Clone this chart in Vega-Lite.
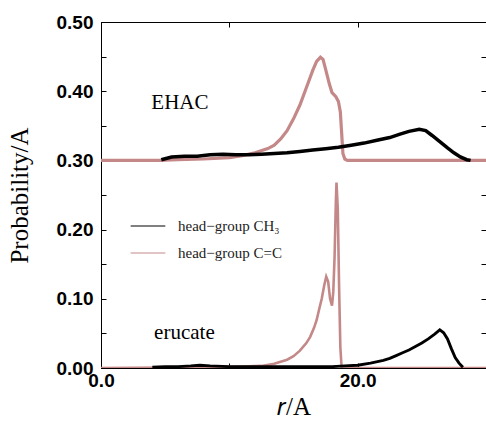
{
  "$schema": "https://vega.github.io/schema/vega-lite/v6.json",
  "width": 385,
  "height": 346,
  "autosize": {"type": "none"},
  "padding": {"left": 101, "top": 22, "right": 0, "bottom": 54},
  "background": "white",
  "config": {
    "view": {"stroke": "black", "strokeWidth": 1},
    "axis": {
      "domainColor": "black",
      "tickColor": "black",
      "grid": false,
      "labelFlush": false,
      "labelFont": "Liberation Sans",
      "labelFontWeight": "bold",
      "labelFontSize": 19,
      "labelColor": "black",
      "titleFont": "Liberation Serif",
      "titleFontWeight": "normal",
      "titleFontSize": 25,
      "titleColor": "black"
    }
  },
  "datasets": {
    "curves": [
      {"series": "EHAC C=C", "group": "head−group C=C", "r": 0.0, "p": 0.300},
      {"series": "EHAC C=C", "group": "head−group C=C", "r": 4.5, "p": 0.300},
      {"series": "EHAC C=C", "group": "head−group C=C", "r": 6.0, "p": 0.301},
      {"series": "EHAC C=C", "group": "head−group C=C", "r": 8.0, "p": 0.302},
      {"series": "EHAC C=C", "group": "head−group C=C", "r": 10.0, "p": 0.304},
      {"series": "EHAC C=C", "group": "head−group C=C", "r": 11.0, "p": 0.307},
      {"series": "EHAC C=C", "group": "head−group C=C", "r": 12.0, "p": 0.311},
      {"series": "EHAC C=C", "group": "head−group C=C", "r": 13.0, "p": 0.317},
      {"series": "EHAC C=C", "group": "head−group C=C", "r": 13.5, "p": 0.322},
      {"series": "EHAC C=C", "group": "head−group C=C", "r": 14.0, "p": 0.331},
      {"series": "EHAC C=C", "group": "head−group C=C", "r": 14.5, "p": 0.343},
      {"series": "EHAC C=C", "group": "head−group C=C", "r": 15.0, "p": 0.360},
      {"series": "EHAC C=C", "group": "head−group C=C", "r": 15.5, "p": 0.380},
      {"series": "EHAC C=C", "group": "head−group C=C", "r": 16.0, "p": 0.405},
      {"series": "EHAC C=C", "group": "head−group C=C", "r": 16.5, "p": 0.430},
      {"series": "EHAC C=C", "group": "head−group C=C", "r": 16.8, "p": 0.443},
      {"series": "EHAC C=C", "group": "head−group C=C", "r": 17.1, "p": 0.449},
      {"series": "EHAC C=C", "group": "head−group C=C", "r": 17.3, "p": 0.446},
      {"series": "EHAC C=C", "group": "head−group C=C", "r": 17.5, "p": 0.432},
      {"series": "EHAC C=C", "group": "head−group C=C", "r": 17.8, "p": 0.410},
      {"series": "EHAC C=C", "group": "head−group C=C", "r": 18.0, "p": 0.398},
      {"series": "EHAC C=C", "group": "head−group C=C", "r": 18.3, "p": 0.392},
      {"series": "EHAC C=C", "group": "head−group C=C", "r": 18.5, "p": 0.385},
      {"series": "EHAC C=C", "group": "head−group C=C", "r": 18.65, "p": 0.370},
      {"series": "EHAC C=C", "group": "head−group C=C", "r": 18.75, "p": 0.340},
      {"series": "EHAC C=C", "group": "head−group C=C", "r": 18.85, "p": 0.310},
      {"series": "EHAC C=C", "group": "head−group C=C", "r": 19.0, "p": 0.302},
      {"series": "EHAC C=C", "group": "head−group C=C", "r": 19.2, "p": 0.300},
      {"series": "EHAC C=C", "group": "head−group C=C", "r": 30.0, "p": 0.300},

      {"series": "erucate C=C", "group": "head−group C=C", "r": 0.0, "p": 0.000},
      {"series": "erucate C=C", "group": "head−group C=C", "r": 8.0, "p": 0.001},
      {"series": "erucate C=C", "group": "head−group C=C", "r": 11.0, "p": 0.002},
      {"series": "erucate C=C", "group": "head−group C=C", "r": 12.5, "p": 0.003},
      {"series": "erucate C=C", "group": "head−group C=C", "r": 13.5, "p": 0.006},
      {"series": "erucate C=C", "group": "head−group C=C", "r": 14.5, "p": 0.012},
      {"series": "erucate C=C", "group": "head−group C=C", "r": 15.0, "p": 0.017},
      {"series": "erucate C=C", "group": "head−group C=C", "r": 15.5, "p": 0.025},
      {"series": "erucate C=C", "group": "head−group C=C", "r": 16.0, "p": 0.036},
      {"series": "erucate C=C", "group": "head−group C=C", "r": 16.3, "p": 0.045},
      {"series": "erucate C=C", "group": "head−group C=C", "r": 16.6, "p": 0.058},
      {"series": "erucate C=C", "group": "head−group C=C", "r": 16.8, "p": 0.069},
      {"series": "erucate C=C", "group": "head−group C=C", "r": 17.0, "p": 0.085},
      {"series": "erucate C=C", "group": "head−group C=C", "r": 17.2, "p": 0.100},
      {"series": "erucate C=C", "group": "head−group C=C", "r": 17.4, "p": 0.120},
      {"series": "erucate C=C", "group": "head−group C=C", "r": 17.55, "p": 0.132},
      {"series": "erucate C=C", "group": "head−group C=C", "r": 17.7, "p": 0.125},
      {"series": "erucate C=C", "group": "head−group C=C", "r": 17.85, "p": 0.100},
      {"series": "erucate C=C", "group": "head−group C=C", "r": 18.0, "p": 0.090},
      {"series": "erucate C=C", "group": "head−group C=C", "r": 18.1, "p": 0.110},
      {"series": "erucate C=C", "group": "head−group C=C", "r": 18.2, "p": 0.160},
      {"series": "erucate C=C", "group": "head−group C=C", "r": 18.3, "p": 0.240},
      {"series": "erucate C=C", "group": "head−group C=C", "r": 18.35, "p": 0.268},
      {"series": "erucate C=C", "group": "head−group C=C", "r": 18.45, "p": 0.230},
      {"series": "erucate C=C", "group": "head−group C=C", "r": 18.55, "p": 0.120},
      {"series": "erucate C=C", "group": "head−group C=C", "r": 18.65, "p": 0.030},
      {"series": "erucate C=C", "group": "head−group C=C", "r": 18.75, "p": 0.000},
      {"series": "erucate C=C", "group": "head−group C=C", "r": 30.0, "p": 0.000},

      {"series": "EHAC CH3", "group": "head−group CH₃", "r": 4.7, "p": 0.301},
      {"series": "EHAC CH3", "group": "head−group CH₃", "r": 5.5, "p": 0.305},
      {"series": "EHAC CH3", "group": "head−group CH₃", "r": 6.5, "p": 0.306},
      {"series": "EHAC CH3", "group": "head−group CH₃", "r": 7.5, "p": 0.306},
      {"series": "EHAC CH3", "group": "head−group CH₃", "r": 8.5, "p": 0.308},
      {"series": "EHAC CH3", "group": "head−group CH₃", "r": 9.5, "p": 0.309},
      {"series": "EHAC CH3", "group": "head−group CH₃", "r": 10.5, "p": 0.308},
      {"series": "EHAC CH3", "group": "head−group CH₃", "r": 11.5, "p": 0.308},
      {"series": "EHAC CH3", "group": "head−group CH₃", "r": 12.5, "p": 0.309},
      {"series": "EHAC CH3", "group": "head−group CH₃", "r": 13.5, "p": 0.310},
      {"series": "EHAC CH3", "group": "head−group CH₃", "r": 14.5, "p": 0.311},
      {"series": "EHAC CH3", "group": "head−group CH₃", "r": 15.5, "p": 0.313},
      {"series": "EHAC CH3", "group": "head−group CH₃", "r": 16.5, "p": 0.315},
      {"series": "EHAC CH3", "group": "head−group CH₃", "r": 17.5, "p": 0.317},
      {"series": "EHAC CH3", "group": "head−group CH₃", "r": 18.5, "p": 0.319},
      {"series": "EHAC CH3", "group": "head−group CH₃", "r": 19.5, "p": 0.322},
      {"series": "EHAC CH3", "group": "head−group CH₃", "r": 20.5, "p": 0.325},
      {"series": "EHAC CH3", "group": "head−group CH₃", "r": 21.5, "p": 0.329},
      {"series": "EHAC CH3", "group": "head−group CH₃", "r": 22.5, "p": 0.333},
      {"series": "EHAC CH3", "group": "head−group CH₃", "r": 23.3, "p": 0.338},
      {"series": "EHAC CH3", "group": "head−group CH₃", "r": 24.0, "p": 0.342},
      {"series": "EHAC CH3", "group": "head−group CH₃", "r": 24.8, "p": 0.345},
      {"series": "EHAC CH3", "group": "head−group CH₃", "r": 25.3, "p": 0.343},
      {"series": "EHAC CH3", "group": "head−group CH₃", "r": 25.8, "p": 0.336},
      {"series": "EHAC CH3", "group": "head−group CH₃", "r": 26.4, "p": 0.327},
      {"series": "EHAC CH3", "group": "head−group CH₃", "r": 27.0, "p": 0.318},
      {"series": "EHAC CH3", "group": "head−group CH₃", "r": 27.5, "p": 0.311},
      {"series": "EHAC CH3", "group": "head−group CH₃", "r": 28.0, "p": 0.305},
      {"series": "EHAC CH3", "group": "head−group CH₃", "r": 28.5, "p": 0.301},
      {"series": "EHAC CH3", "group": "head−group CH₃", "r": 28.8, "p": 0.300},

      {"series": "erucate CH3", "group": "head−group CH₃", "r": 4.0, "p": 0.001},
      {"series": "erucate CH3", "group": "head−group CH₃", "r": 5.0, "p": 0.002},
      {"series": "erucate CH3", "group": "head−group CH₃", "r": 6.0, "p": 0.002},
      {"series": "erucate CH3", "group": "head−group CH₃", "r": 7.0, "p": 0.003},
      {"series": "erucate CH3", "group": "head−group CH₃", "r": 7.7, "p": 0.004},
      {"series": "erucate CH3", "group": "head−group CH₃", "r": 8.5, "p": 0.003},
      {"series": "erucate CH3", "group": "head−group CH₃", "r": 10.0, "p": 0.002},
      {"series": "erucate CH3", "group": "head−group CH₃", "r": 12.0, "p": 0.002},
      {"series": "erucate CH3", "group": "head−group CH₃", "r": 14.0, "p": 0.002},
      {"series": "erucate CH3", "group": "head−group CH₃", "r": 16.0, "p": 0.002},
      {"series": "erucate CH3", "group": "head−group CH₃", "r": 18.0, "p": 0.002},
      {"series": "erucate CH3", "group": "head−group CH₃", "r": 19.0, "p": 0.003},
      {"series": "erucate CH3", "group": "head−group CH₃", "r": 20.0, "p": 0.004},
      {"series": "erucate CH3", "group": "head−group CH₃", "r": 21.0, "p": 0.007},
      {"series": "erucate CH3", "group": "head−group CH₃", "r": 22.0, "p": 0.011},
      {"series": "erucate CH3", "group": "head−group CH₃", "r": 22.5, "p": 0.014},
      {"series": "erucate CH3", "group": "head−group CH₃", "r": 23.0, "p": 0.018},
      {"series": "erucate CH3", "group": "head−group CH₃", "r": 23.5, "p": 0.022},
      {"series": "erucate CH3", "group": "head−group CH₃", "r": 24.0, "p": 0.026},
      {"series": "erucate CH3", "group": "head−group CH₃", "r": 24.5, "p": 0.031},
      {"series": "erucate CH3", "group": "head−group CH₃", "r": 25.0, "p": 0.036},
      {"series": "erucate CH3", "group": "head−group CH₃", "r": 25.5, "p": 0.042},
      {"series": "erucate CH3", "group": "head−group CH₃", "r": 26.0, "p": 0.049},
      {"series": "erucate CH3", "group": "head−group CH₃", "r": 26.4, "p": 0.055},
      {"series": "erucate CH3", "group": "head−group CH₃", "r": 26.7, "p": 0.051},
      {"series": "erucate CH3", "group": "head−group CH₃", "r": 27.0, "p": 0.042},
      {"series": "erucate CH3", "group": "head−group CH₃", "r": 27.3, "p": 0.028},
      {"series": "erucate CH3", "group": "head−group CH₃", "r": 27.6, "p": 0.015},
      {"series": "erucate CH3", "group": "head−group CH₃", "r": 27.9, "p": 0.007},
      {"series": "erucate CH3", "group": "head−group CH₃", "r": 28.2, "p": 0.001}
    ],
    "labels": [
      {"r": 6.15, "p": 0.383, "label": "EHAC"},
      {"r": 6.5, "p": 0.0506, "label": "erucate"}
    ]
  },
  "layer": [
    {
      "data": {"name": "curves"},
      "transform": [{"filter": "datum.group == 'head−group C=C'"}],
      "mark": {"type": "line", "clip": true},
      "encoding": {
        "x": {"field": "r", "type": "quantitative", "scale": {"domain": [0, 30], "nice": false},
          "axis": {"orient": "bottom", "values": [0, 10, 20, 30], "tickSize": -5, "labelPadding": 8, "labelFlush": false,
            "labelExpr": "(datum.value == 0 || datum.value == 20) ? format(datum.value, '.1f') : ''",
            "title": "𝑟/A", "titlePadding": 4}},
        "y": {"field": "p", "type": "quantitative", "scale": {"domain": [0, 0.5], "nice": false, "zero": false},
          "axis": {"orient": "left", "values": [0, 0.05, 0.1, 0.15, 0.2, 0.25, 0.3, 0.35, 0.4, 0.45, 0.5], "tickSize": -5, "labelPadding": 13, "labelFlush": false,
            "labelExpr": "round(datum.value * 100) % 10 == 0 ? format(datum.value, '.2f') : ''",
            "title": "Probability/A", "titlePadding": 24}},
        "color": {"field": "group", "type": "nominal",
          "scale": {"domain": ["head−group CH₃", "head−group C=C"], "range": ["#000000", "#c48888"]},
          "legend": {"orient": "none", "legendX": 29, "legendY": 186, "title": null, "symbolType": "stroke", "symbolSize": 1200, "symbolStrokeWidth": 1, "labelFont": "Liberation Serif", "labelFontSize": 15, "labelColor": "#222222", "labelOffset": 12, "padding": 0, "rowPadding": 1}},
        "strokeWidth": {"field": "series", "type": "nominal",
          "scale": {"domain": ["EHAC CH3", "EHAC C=C", "erucate CH3", "erucate C=C"], "range": [3.5, 2.6, 2.6, 1.2]}, "legend": null}
      }
    },
    {
      "data": {"name": "curves"},
      "transform": [{"filter": "datum.group == 'head−group CH₃'"}],
      "mark": {"type": "line", "clip": true},
      "encoding": {
        "x": {"field": "r", "type": "quantitative", "axis": null},
        "y": {"field": "p", "type": "quantitative", "axis": null},
        "color": {"field": "group", "type": "nominal"},
        "strokeWidth": {"field": "series", "type": "nominal", "legend": null}
      }
    },
    {
      "data": {"name": "labels"},
      "mark": {"type": "text", "font": "Liberation Serif", "fontSize": 21, "color": "black", "align": "center", "baseline": "middle"},
      "encoding": {
        "x": {"field": "r", "type": "quantitative",
          "axis": {"orient": "top", "values": [0, 10, 20, 30], "labels": false, "tickSize": -5, "title": null}},
        "y": {"field": "p", "type": "quantitative",
          "axis": {"orient": "right", "values": [0, 0.05, 0.1, 0.15, 0.2, 0.25, 0.3, 0.35, 0.4, 0.45, 0.5], "labels": false, "tickSize": -5, "title": null}},
        "text": {"field": "label"}
      }
    }
  ],
  "resolve": {"axis": {"x": "independent", "y": "independent"}}
}
